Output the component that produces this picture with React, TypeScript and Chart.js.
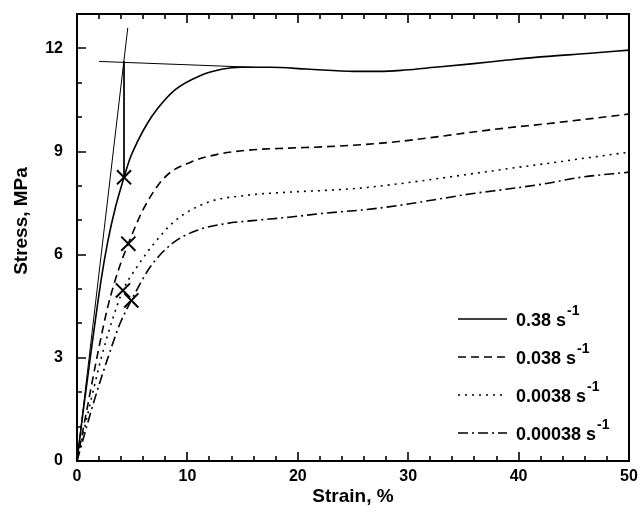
import React, { useEffect, useRef } from 'react';
import { Chart, registerables } from 'chart.js';

Chart.register(...registerables);

// ---- data (strain %, stress MPa) ----
const strain038 = [0, 0.5, 1.2, 2.2, 2.8, 3.5, 4.26, 4.8, 5.5, 6.3, 7.3, 8.9, 11.1, 13.2, 14.9, 17.5, 20.8, 25.1, 27.4, 29.7, 32.4, 35.7, 39, 42.3, 46.2, 50];
const stress038 = [0, 1.3, 3.0, 5.3, 6.4, 7.4, 8.25, 8.8, 9.3, 9.78, 10.25, 10.8, 11.2, 11.4, 11.45, 11.45, 11.4, 11.33, 11.33, 11.37, 11.45, 11.55, 11.66, 11.76, 11.85, 11.95];

const strain0038 = [0, 0.9, 1.8, 2.8, 3.8, 4.65, 5.97, 7.95, 10.3, 12.9, 15.9, 19.2, 22.5, 25.8, 29.1, 32.4, 35.7, 39, 42.3, 45.6, 50];
const stress0038 = [0, 1.5, 3.0, 4.5, 5.6, 6.32, 7.3, 8.25, 8.69, 8.93, 9.05, 9.1, 9.14, 9.2, 9.29, 9.42, 9.56, 9.69, 9.8, 9.92, 10.09];

const strain00038 = [0, 1.0, 2.2, 3.2, 4.16, 5.64, 6.96, 8.94, 11.9, 15.2, 19.2, 22.5, 25.8, 29.1, 32.4, 35.7, 39, 42.3, 45.6, 50];
const stress00038 = [0, 1.4, 3.0, 4.1, 4.96, 5.74, 6.32, 7.0, 7.53, 7.72, 7.82, 7.87, 7.94, 8.06, 8.2, 8.35, 8.5, 8.64, 8.79, 8.98];

const strain000038 = [0, 0.7, 1.6, 2.8, 3.9, 4.92, 6.63, 8.6, 10.9, 13.6, 15.9, 19.2, 22.5, 25.8, 29.1, 32.4, 35.7, 39, 42.3, 45.6, 50];
const stress000038 = [0, 0.8, 1.8, 3.0, 4.0, 4.67, 5.64, 6.32, 6.71, 6.91, 6.99, 7.09, 7.21, 7.3, 7.43, 7.6, 7.77, 7.91, 8.06, 8.25, 8.4];

// yield markers (X)
const markerStrain = [4.26, 4.65, 4.16, 4.92];
const markerStress = [8.25, 6.32, 4.96, 4.67];

// construction lines
const elasticStrain = [0, 4.6];
const elasticStress = [0, 12.6];
const plateauStrain = [2, 16];
const plateauStress = [11.62, 11.45];
const yieldLineStrain = [4.26, 4.26];
const yieldLineStress = [11.62, 8.25];

const rateLabels = ['0.38', '0.038', '0.0038', '0.00038'];
const xTickStep = 10;
const yTickStep = 3;

const dashes: number[][] = [[], [8, 5], [2, 5], [10, 4, 2, 4]];

const pts = (xs: number[], ys: number[]) => xs.map((x, i) => ({ x, y: ys[i] }));

const FONT = '"Liberation Sans", Arial, sans-serif';

const decorPlugin = {
  id: 'decor',
  afterDraw(chart: any) {
    const { ctx, chartArea: a, scales } = chart;
    const xs = scales.x;
    const ys = scales.y;
    ctx.save();
    ctx.strokeStyle = '#000';
    ctx.fillStyle = '#000';
    ctx.lineWidth = 1.6;
    ctx.setLineDash([]);
    ctx.beginPath();
    for (let v = 0; v <= 50; v += 2) {
      const px = Math.round(xs.getPixelForValue(v));
      const len = v % 10 === 0 ? 9 : 5;
      ctx.moveTo(px, a.bottom);
      ctx.lineTo(px, a.bottom - len);
      ctx.moveTo(px, a.top);
      ctx.lineTo(px, a.top + len);
    }
    for (let v = 0; v <= 13; v += 1) {
      const py = Math.round(ys.getPixelForValue(v));
      const len = v % 3 === 0 ? 9 : 5;
      ctx.moveTo(a.left, py);
      ctx.lineTo(a.left + len, py);
    }
    ctx.stroke();
    ctx.lineWidth = 2;
    ctx.strokeRect(a.left, a.top, a.right - a.left, a.bottom - a.top);

    // axis titles
    ctx.font = `bold 19px ${FONT}`;
    ctx.textAlign = 'center';
    ctx.textBaseline = 'middle';
    ctx.fillText('Strain, %', (a.left + a.right) / 2, 497);
    ctx.save();
    ctx.translate(22, 221);
    ctx.rotate(-Math.PI / 2);
    ctx.fillText('Stress, MPa', 0, 0);
    ctx.restore();

    // legend
    ctx.textAlign = 'left';
    ctx.textBaseline = 'alphabetic';
    rateLabels.forEach((lab, i) => {
      const y = 319 + 38 * i;
      ctx.lineWidth = 1.5;
      ctx.setLineDash(dashes[i]);
      ctx.beginPath();
      ctx.moveTo(458, y);
      ctx.lineTo(507, y);
      ctx.stroke();
      ctx.setLineDash([]);
      ctx.font = `bold 18px ${FONT}`;
      const t = `${lab} s`;
      ctx.fillText(t, 516, y + 7);
      const w = ctx.measureText(t).width;
      ctx.font = `bold 14px ${FONT}`;
      ctx.fillText('-1', 516 + w + 1, y - 4);
    });
    ctx.restore();
  },
};

export default function App() {
  const ref = useRef<HTMLCanvasElement>(null);
  useEffect(() => {
    if (!ref.current) return;
    const line = (xs: number[], ys: number[], i: number) => ({
      data: pts(xs, ys),
      borderColor: '#000',
      borderWidth: 1.6,
      borderDash: dashes[i],
      pointRadius: 0,
      fill: false,
      cubicInterpolationMode: 'monotone',
    });
    const thin = (xs: number[], ys: number[]) => ({
      data: pts(xs, ys),
      borderColor: '#000',
      borderWidth: 1,
      pointRadius: 0,
      fill: false,
      tension: 0,
    });
    const chart = new Chart(ref.current, {
      type: 'line',
      data: {
        datasets: [
          line(strain038, stress038, 0),
          line(strain0038, stress0038, 1),
          line(strain00038, stress00038, 2),
          line(strain000038, stress000038, 3),
          thin(elasticStrain, elasticStress),
          thin(plateauStrain, plateauStress),
          thin(yieldLineStrain, yieldLineStress),
          {
            data: pts(markerStrain, markerStress),
            showLine: false,
            pointStyle: 'crossRot',
            pointRadius: 10,
            pointBorderWidth: 2,
            borderColor: '#000',
            pointBorderColor: '#000',
          } as any,
        ] as any,
      },
      options: {
        responsive: false,
        animation: false,
        devicePixelRatio: 1,
        layout: { padding: { left: 0, top: 14, right: 13, bottom: 0 } },
        plugins: { legend: { display: false }, tooltip: { enabled: false } },
        scales: {
          x: {
            type: 'linear',
            min: 0,
            max: 50,
            grid: { display: false, drawTicks: false },
            border: { display: false },
            ticks: {
              stepSize: xTickStep,
              color: '#000',
              padding: 6,
              font: { family: FONT, size: 16, weight: 'bold' },
              maxRotation: 0,
            },
            afterFit: (s: any) => { s.height = 54; s.paddingLeft = 0; s.paddingRight = 0; },
          },
          y: {
            type: 'linear',
            min: 0,
            max: 13,
            grid: { display: false, drawTicks: false },
            border: { display: false },
            ticks: {
              stepSize: yTickStep,
              color: '#000',
              padding: 14,
              font: { family: FONT, size: 16, weight: 'bold' },
            },
            afterBuildTicks: (s: any) => { s.ticks = s.ticks.filter((t: any) => t.value % yTickStep === 0); },
            afterFit: (s: any) => { s.width = 77; s.paddingTop = 0; s.paddingBottom = 0; },
          },
        },
      } as any,
      plugins: [decorPlugin],
    });
    return () => chart.destroy();
  }, []);
  return (
    <div style={{ position: 'fixed', left: 0, top: 0, width: 642, height: 515, background: '#fff' }}>
      <canvas ref={ref} width={642} height={515} />
    </div>
  );
}
